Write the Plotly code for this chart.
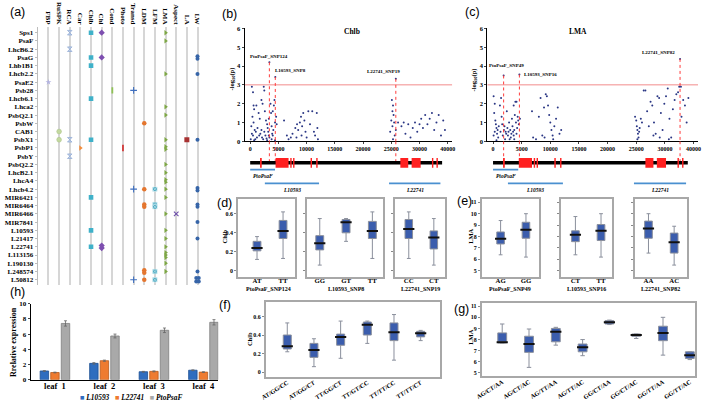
import plotly.graph_objects as go
from collections import Counter

W, H = 709, 405
def fx(p): return p / W
def fy(p): return 1 - p / H

SERIF = "Liberation Serif"
SANS = "Liberation Sans"

# ---------------- (a) data ----------------
genes = ['Sps1','PsaF','LhcB6.2','PsaG','Lhb1B1','Lhcb2.2','PsaE2','Psb28','Lhcb6.1','Lhca2',
         'PsbQ2.1','PsbW','CAB1','PsbX1','PsbP1','PsbY','PsbQ2.2','LhcB2.1','LhcA4','Lhcb4.2',
         'MIR6421','MIR6464','MIR6466','MIR7841','L10593','L21417','L22741','L113156','L190130',
         'L248574','L50812']
traits = ['FBP','RuSPK','RCA','Car','Chlb','Chl','Cond','Photo','Transd','LDM','LFM','LMA',
          'Aspect','LA','LW']
hits_FBP = ['PsaE2']
hits_RuSPK = ['CAB1','PsbX1']
hits_RCA = ['Sps1','LhcB6.2','PsbX1','PsbY']
hits_Car = ['PsbP1']
hits_Chlb = ['Sps1','PsaG','Lhb1B1','Lhcb6.1','PsbX1','MIR6421','L10593','L22741']
hits_Chl = ['Sps1','PsaG','L22741','L22741']
hits_Cond = ['Psb28']
hits_Photo = ['PsbP1']
hits_Transd = ['Psb28','Lhcb4.2','L50812']
hits_LDM = ['PsbW','Lhcb4.2','MIR6464','MIR6464','L248574','L248574','L50812']
hits_LFM = ['Lhcb4.2','MIR6464','MIR6464','L248574','L50812']
hits_LMA = ['Sps1','PsaF','Lhcb2.2','Lhca2','PsbQ2.1','PsbX1','PsbP1','PsbP1','PsbQ2.2','LhcB2.1',
            'LhcA4','LhcA4','Lhcb4.2','MIR6421','MIR6466','L10593','L21417','L22741','L113156',
            'L113156','L113156','L190130','L248574']
hits_Aspect = ['MIR6466']
hits_LA = ['PsbX1']
hits_LW = ['PsaG','PsaG','Lhcb2.2','PsbX1','Lhcb4.2','Lhcb4.2','MIR6464','MIR6464','MIR7841',
           'L21417','L248574','L50812','L50812','L50812','L50812']
hits_by_trait = [hits_FBP, hits_RuSPK, hits_RCA, hits_Car, hits_Chlb, hits_Chl, hits_Cond,
                 hits_Photo, hits_Transd, hits_LDM, hits_LFM, hits_LMA, hits_Aspect, hits_LA, hits_LW]

trait_style = {
    'FBP':    dict(symbol='star', size=4.5, color='#b3b3e0', line=dict(width=0)),
    'RuSPK':  dict(symbol='circle', size=4.8, color='#c3d9a0', line=dict(width=0.5, color='#a9c184')),
    'RCA':    dict(symbol='hourglass', size=4.6, color='#bccde8', line=dict(width=0.7, color='#8ea8d3')),
    'Car':    dict(symbol='triangle-right', size=4.6, color='#f28c3c', line=dict(width=0)),
    'Chlb':   dict(symbol='square', size=4.6, color='#3fb1c9', line=dict(width=0)),
    'Chl':    dict(symbol='diamond', size=4.8, color='#7e4fb0', line=dict(width=0)),
    'Cond':   dict(symbol='line-ns', size=4.5, color='#8fc155', line=dict(width=1.8, color='#8fc155')),
    'Photo':  dict(symbol='line-ns', size=4.5, color='#d23a3a', line=dict(width=1.8, color='#d23a3a')),
    'Transd': dict(symbol='cross-thin', size=4.8, color='#3f6fbf', line=dict(width=1.1, color='#3f6fbf')),
    'LDM':    dict(symbol='circle', size=4.5, color='#e4762f', line=dict(width=0)),
    'LFM':    dict(symbol='square-x', size=4.4, color='#43a6bf', line=dict(width=0.6, color='#d8f0f5')),
    'LMA':    dict(symbol='triangle-right', size=4.6, color='#7ea746', line=dict(width=0)),
    'Aspect': dict(symbol='x-thin', size=4.6, color='#6d4fa8', line=dict(width=1.1, color='#6d4fa8')),
    'LA':     dict(symbol='square', size=5, color='#a83232', line=dict(width=0)),
    'LW':     dict(symbol='circle', size=4, color='#3765a8', line=dict(width=0)),
}

# ---------------- (b)/(c) data ----------------
b_pos = [300,500,700,400,600,200,800,300,500,1000,1200,900,100,1500,1700,2000,2200,2400,2500,2600,
         2800,3000,3100,3200,3300,3400,3600,3700,3800,3900,4000,4100,4200,4300,4400,4600,4700,1800,
         2100,2300,2700,2900,1300,1100,1600,700,3000,3800,4400,2000,2500,3300,4000,600,
         6000,6500,6800,7200,7500,8000,8300,8500,8800,9000,9200,9400,9600,9800,10000,10300,10600,
         11000,11300,11500,11800,12000,11900,9100,8200,
         25100,25300,25200,25400,25000,25500,25200,24800,25600,25300,25800,26200,26800,27200,27500,
         28000,28400,28800,29200,29600,30000,30300,30600,31000,31400,31800,32200,32600,33000,33400,
         33800,34200,34500]
b_logp = [2.9,2.6,1.7,1.3,1.0,0.8,0.6,0.4,0.3,0.5,0.2,0.1,0.1,1.5,1.2,2.2,2.0,2.9,2.7,1.6,
          1.1,0.9,0.7,0.5,0.3,0.2,2.0,1.5,0.8,0.4,0.3,0.6,1.9,2.2,1.0,1.3,0.9,0.4,
          0.2,0.1,0.3,0.15,0.7,1.9,0.3,0.05,0.05,0.1,0.05,0.6,0.5,1.2,1.6,1.9,
          1.1,0.3,0.1,0.2,0.4,0.7,0.9,0.6,1.0,1.3,0.8,1.5,1.1,0.5,0.2,1.6,0.9,
          1.6,0.5,0.3,1.5,0.1,0.7,0.3,0.2,
          2.2,1.9,1.6,1.4,1.1,1.0,0.8,0.5,0.3,0.1,0.6,1.0,0.8,1.0,0.4,
          0.9,0.2,0.7,1.0,0.5,0.9,1.2,0.7,1.4,0.9,1.2,1.5,0.6,1.0,1.4,
          0.3,1.1,0.6]
b_snp_names = ['PtoPsaF_SNP124','L10593_SNP8','L22741_SNP19']
b_snp_pos = [3400, 4450, 25800]
b_snp_logp = [4.2, 3.42, 3.32]

c_pos = [100,300,200,400,500,600,300,700,100,800,900,1000,1200,1400,1300,1600,1700,1900,2000,2200,
         2300,2500,2600,2700,2800,3000,3100,3200,3300,3400,3500,3600,3700,3800,3900,4000,4100,4200,
         4300,4400,4500,4700,2100,2900,3700,600,1500,2400,3600,4100,
         6800,7000,7500,8000,8300,8600,8900,9200,9400,9600,9800,10000,10200,10400,10700,11000,11300,
         11600,11900,9000,10500,
         24800,25000,25100,25200,25300,25400,25500,25600,25200,25800,26000,26300,26600,26900,27200,
         27500,27800,28100,28400,28700,29000,29300,29600,29900,30200,30500,30800,31100,31400,31700,
         32000,32300,32500,32900,33200,33500,33800,34100,30700,29100,28000,32800]
c_logp = [2.4,2.0,1.5,1.1,0.9,0.7,0.5,0.4,0.3,0.6,0.2,0.8,1.9,2.3,0.5,0.9,0.3,0.6,0.8,0.5,
          0.4,0.7,0.3,0.5,1.0,0.6,0.2,0.4,1.2,0.8,0.5,0.3,0.6,1.4,2.1,1.0,0.4,0.7,
          1.3,1.1,0.9,1.2,0.1,0.1,0.1,0.05,1.3,1.6,1.9,2.1,
          1.6,0.2,0.1,1.3,2.3,0.3,1.8,2.5,2.4,1.9,1.4,1.0,0.6,0.3,0.8,1.2,1.8,
          0.4,0.6,0.2,0.1,
          1.3,1.1,0.8,0.6,0.4,0.2,0.5,0.7,0.1,1.2,1.0,2.7,2.7,1.6,0.8,
          2.1,1.9,1.0,0.4,2.4,2.3,1.5,0.6,2.0,2.4,2.8,1.2,0.2,1.7,2.2,
          2.5,2.6,2.9,1.3,2.2,1.9,1.0,2.3,0.1,0.2,0.3,2.9]
c_snp_names = ['PtoPsaF_SNP49','L10593_SNP16','L22741_SNP82']
c_snp_pos = [1850, 4600, 32650]
c_snp_logp = [3.5, 3.55, 4.38]
threshold = 3

# gene structure (bp)
scaffold_len = 34000
exon_start = [1750, 4500, 7100, 7600, 10700, 11700, 26600, 28600, 32200, 33000]
exon_end   = [2050, 6800, 7350, 7850, 10950, 11950, 28000, 30200, 32450, 33250]
locus_names = ['PtoPsaF', 'L10593', 'L22741']
locus_start = [0, 2600, 24600]
locus_end   = [4400, 12200, 33700]

# ---------------- (d)-(g) box data ----------------
d_groups = ['PtoPsaF_SNP124', 'L10593_SNP8', 'L22741_SNP19']
d1_cats = ['AT','TT']; d1_low=[0.12,0.13]; d1_q1=[0.21,0.34]; d1_med=[0.24,0.42]; d1_q3=[0.31,0.53]; d1_high=[0.36,0.62]
d2_cats = ['GG','GT','TT']; d2_low=[0.06,0.31,0.13]; d2_q1=[0.22,0.40,0.34]; d2_med=[0.29,0.51,0.42]; d2_q3=[0.37,0.54,0.52]; d2_high=[0.55,0.55,0.62]
d3_cats = ['CC','CT']; d3_low=[0.13,0.06]; d3_q1=[0.34,0.23]; d3_med=[0.44,0.35]; d3_q3=[0.54,0.42]; d3_high=[0.62,0.55]
e_groups = ['PtoPsaF_SNP49', 'L10593_SNP16', 'L22741_SNP82']
e1_cats = ['AG','GG']; e1_low=[6.4,6.2]; e1_q1=[7.35,7.85]; e1_med=[7.8,8.6]; e1_q3=[8.4,9.25]; e1_high=[9.4,10.0]
e2_cats = ['CT','TT']; e2_low=[6.4,6.2]; e2_q1=[7.55,7.65]; e2_med=[8.15,8.5]; e2_q3=[8.5,9.05]; e2_high=[9.75,10.0]
e3_cats = ['AA','AC']; e3_low=[6.55,5.5]; e3_q1=[7.85,6.55]; e3_med=[8.7,7.5]; e3_q3=[9.35,8.3]; e3_high=[10.0,8.9]
f_cats = ['AT/GG/CC','AT/GG/CT','TT/GG/CT','TT/GT/CC','TT/TT/CC','TT/TT/CT']
f_low=[0.22,0.06,0.15,0.31,0.13,0.34]; f_q1=[0.25,0.16,0.29,0.40,0.34,0.38]
f_med=[0.28,0.24,0.38,0.51,0.43,0.42]; f_q3=[0.40,0.31,0.41,0.54,0.53,0.44]
f_high=[0.53,0.36,0.55,0.55,0.62,0.45]
g_cats = ['AG/CT/AA','AG/CT/AC','AG/TT/AA','AG/TT/AC','GG/CT/AA','GG/CT/AC','GG/TT/AA','GG/TT/AC']
g_low=[7.7,5.5,7.5,6.55,9.35,8.1,6.6,6.2]; g_q1=[7.7,6.85,7.8,6.9,9.4,8.3,7.9,6.3]
g_med=[7.75,7.6,8.7,7.3,9.55,8.4,8.6,6.6]; g_q3=[8.6,8.3,9.0,7.6,9.7,8.5,9.2,6.9]
g_high=[9.4,8.95,9.1,8.0,9.75,8.5,10.0,6.9]

# ---------------- (h) data ----------------
leaves = ['leaf  1','leaf  2','leaf  3','leaf  4']
expr_L10593 = [1.15, 2.15, 1.05, 1.25]; err_L10593 = [0.05, 0.1, 0.05, 0.05]
expr_L22741 = [0.95, 2.5, 1.1, 1.0];    err_L22741 = [0.05, 0.08, 0.06, 0.05]
expr_PtoPsaF = [7.4, 5.75, 6.5, 7.55];  err_PtoPsaF = [0.35, 0.25, 0.3, 0.35]

fig = go.Figure()
lay = {}
ann = []
shapes = []

def tf(size, color='black', bold=True, italic=False, family=SERIF):
    d = dict(family=family, size=size, color=color)
    if bold: d['weight'] = 'bold'
    if italic: d['style'] = 'italic'
    return d

def pann(px, py, text, size, angle=0, xanchor='center', font=None):
    ann.append(dict(x=fx(px), y=fy(py), xref='paper', yref='paper', text=text,
                    textangle=angle, showarrow=False, xanchor=xanchor, yanchor='middle',
                    font=font or tf(size)))

# ================= (a) =================
for t, hits in zip(traits, hits_by_trait):
    ci = traits.index(t)
    xs, ys = [], []
    for g, n in Counter(hits).items():
        ri = genes.index(g)
        if n == 4:
            offs = [(-0.12, -0.2), (0.12, -0.2), (-0.12, 0.2), (0.12, 0.2)]
        else:
            offs = [(0, (k - (n - 1) / 2) * 0.3) for k in range(n)]
        for dx, dy in offs:
            xs.append(ci + dx); ys.append(ri + dy)
    fig.add_trace(go.Scatter(x=xs, y=ys, mode='markers', marker=trait_style[t],
                             xaxis='x', yaxis='y', showlegend=False, hoverinfo='skip'))

lay['xaxis'] = dict(domain=[fx(32), fx(200)], range=[-1.02, 14.56], side='top', anchor='y',
                    tickvals=list(range(len(traits))), ticktext=traits, tickangle=90,
                    showgrid=True, gridcolor='#d6d6d6', gridwidth=2, zeroline=False,
                    showline=False, ticks='', tickfont=tf(7))
lay['yaxis'] = dict(domain=[fy(287), fy(23)], range=[30.68, -0.75], anchor='x',
                    tickvals=list(range(len(genes))), ticktext=genes, showgrid=False,
                    zeroline=False, showline=True, linecolor='#bdbdbd', linewidth=1,
                    ticks='outside', ticklen=2, tickcolor='#bdbdbd', tickfont=tf(7))

# ================= (b), (c) =================
def manhattan(xa, ya, ga, xdom, pos, logp, snames, spos, slogp, title, title_x, ylab_x,
              lab_layout):
    xk, yk, gk = xa.replace('x', 'xaxis'), ya.replace('y', 'yaxis'), ga.replace('y', 'yaxis')
    fig.add_trace(go.Scatter(x=pos + spos, y=logp + slogp, mode='markers', xaxis=xa, yaxis=ya,
                             marker=dict(symbol='circle', size=2, color='#2a3684',
                                         line=dict(width=0)),
                             showlegend=False, hoverinfo='skip'))
    fig.add_trace(go.Scatter(x=[-1000, 35800], y=[threshold, threshold], mode='lines',
                             line=dict(color='#f28b8b', width=1), xaxis=xa, yaxis=ya,
                             showlegend=False, hoverinfo='skip'))
    for nm, p, v, (dxp, dyp, anc, yanc) in zip(snames, spos, slogp, lab_layout):
        fig.add_trace(go.Scatter(x=[p, p], y=[v, 0], mode='lines', xaxis=xa, yaxis=ya,
                                 line=dict(color='#ff3b3b', width=1, dash='dot'),
                                 showlegend=False, hoverinfo='skip'))
        fig.add_trace(go.Scatter(x=[p, p], y=[0, 22], mode='lines', xaxis=xa, yaxis=ga,
                                 line=dict(color='#ff3b3b', width=1, dash='dot'),
                                 showlegend=False, hoverinfo='skip'))
        ann.append(dict(x=p, y=v, xref=xa, yref=ya, text=nm, showarrow=False,
                        xanchor=anc, yanchor=yanc, xshift=dxp, yshift=dyp, font=tf(5)))
    fig.add_trace(go.Scatter(x=[0, scaffold_len], y=[22, 22], mode='lines', xaxis=xa, yaxis=ga,
                             line=dict(color='black', width=3.5), showlegend=False,
                             hoverinfo='skip'))
    for s, e in zip(exon_start, exon_end):
        shapes.append(dict(type='rect', xref=xa, yref=ga, x0=s, x1=e, y0=17, y1=27,
                           fillcolor='#ff2020', line=dict(width=0)))
    for i, (nm, s, e) in enumerate(zip(locus_names, locus_start, locus_end)):
        yy = 29 if i == 0 else 43
        fig.add_trace(go.Scatter(x=[s, e], y=[yy, yy], mode='lines', xaxis=xa, yaxis=ga,
                                 line=dict(color='#4a90d0', width=1.6), showlegend=False,
                                 hoverinfo='skip'))
        ann.append(dict(x=(s + e) / 2, y=yy + 1.5, xref=xa, yref=ga, text='<i>' + nm + '</i>',
                        showarrow=False, xanchor='center', yanchor='top', font=tf(5.5)))
    lay[xk] = dict(domain=xdom, range=[-1000, 35800], anchor=ya,
                   tickvals=[0, 5000, 10000, 15000, 20000, 25000, 30000, 35000],
                   ticktext=['0', '5000', '10000', '15000', '20000', '25000', '30000', '40000'],
                   showline=True, linecolor='black', linewidth=1, ticks='outside', ticklen=2,
                   showgrid=False, zeroline=False, tickfont=tf(6))
    lay[yk] = dict(domain=[fy(140), fy(24)], range=[0, 6.05], anchor=xa,
                   tickvals=[0, 1, 2, 3, 4, 5, 6], showline=True, linecolor='black',
                   linewidth=1, ticks='outside', ticklen=2, showgrid=False, zeroline=False,
                   tickfont=tf(6.5))
    lay[gk] = dict(domain=[fy(198), fy(140)], range=[58, 0], anchor=xa, visible=False)
    pann(title_x, 28, title, 7.5)
    pann(ylab_x, 77, '-log<sub>10</sub>(p)', 6.5, angle=-90)

manhattan('x2', 'y2', 'y3', [fx(241.6), fx(452)], b_pos, b_logp, b_snp_names, b_snp_pos,
          b_snp_logp, 'Chlb', 350, 229,
          [(0, 1, 'center', 'bottom'), (-2, 2, 'left', 'bottom'), (-12, 3, 'center', 'bottom')])
manhattan('x3', 'y4', 'y5', [fx(487.5), fx(701)], c_pos, c_logp, c_snp_names, c_snp_pos,
          c_snp_logp, 'LMA', 579, 474,
          [(3, 5, 'center', 'bottom'), (3, 0, 'left', 'middle'), (-22, 2, 'center', 'bottom')])

# ================= box panels =================
BOXFILL = '#3b5dad'
BOXLINE = '#8a8f9c'
FRAME = '#a8a8a8'

def box_panel(xa, ya, cats, low, q1, med, q3, high, xdom, ydom, xrange, yrange, ytickvals,
              showlabels, tickangle=0, bw=0.3, medsize=8):
    xk, yk = xa.replace('x', 'xaxis'), ya.replace('y', 'yaxis')
    fig.add_trace(go.Box(x=cats, q1=q1, median=med, q3=q3, lowerfence=low, upperfence=high,
                         xaxis=xa, yaxis=ya, fillcolor=BOXFILL, width=bw, whiskerwidth=0.5,
                         line=dict(color=BOXLINE, width=1), showlegend=False, hoverinfo='skip'))
    fig.add_trace(go.Scatter(x=cats, y=med, mode='markers', xaxis=xa, yaxis=ya,
                             marker=dict(symbol='line-ew', size=medsize,
                                         line=dict(color='#101010', width=2)),
                             showlegend=False, hoverinfo='skip'))
    lay[xk] = dict(domain=xdom, range=xrange, anchor=ya, type='category',
                   categoryorder='array', categoryarray=cats,
                   showline=True, mirror=True, linecolor=FRAME, linewidth=1.5, ticks='',
                   showgrid=False, zeroline=False, tickfont=tf(6.8 if tickangle == 0 else 6.2),
                   tickangle=tickangle, ticklabelstandoff=-3 if tickangle == 0 else -2)
    lay[yk] = dict(domain=ydom, range=yrange, anchor=xa, tickvals=ytickvals,
                   showticklabels=showlabels, showline=True, mirror=True, linecolor=FRAME,
                   linewidth=1.5, ticks='outside', ticklen=2, tickcolor='#888',
                   showgrid=False, zeroline=False, tickfont=tf(6))

dy_dom = [fy(278), fy(199)]
dyr = [-0.06, 0.755]
dyt = [0, 0.2, 0.4, 0.6]
box_panel('x4', 'y6', d1_cats, d1_low, d1_q1, d1_med, d1_q3, d1_high, [fx(235), fx(293)],
          dy_dom, [-0.73, 1.47], dyr, dyt, True)
box_panel('x5', 'y7', d2_cats, d2_low, d2_q1, d2_med, d2_q3, d2_high, [fx(305), fx(382)],
          dy_dom, [-0.48, 2.41], dyr, dyt, False)
box_panel('x6', 'y8', d3_cats, d3_low, d3_q1, d3_med, d3_q3, d3_high, [fx(394), fx(445)],
          dy_dom, [-0.55, 1.46], dyr, dyt, False)
eyr = [4.5, 11.28]
eyt = [5, 6, 7, 8, 9, 10, 11]
box_panel('x7', 'y9', e1_cats, e1_low, e1_q1, e1_med, e1_q3, e1_high, [fx(481.7), fx(540)],
          dy_dom, [-0.75, 1.52], eyr, eyt, True)
box_panel('x8', 'y10', e2_cats, e2_low, e2_q1, e2_med, e2_q3, e2_high, [fx(561.7), fx(613.3)],
          dy_dom, [-0.58, 1.41], eyr, eyt, False)
box_panel('x9', 'y11', e3_cats, e3_low, e3_q1, e3_med, e3_q3, e3_high, [fx(636.7), fx(690)],
          dy_dom, [-0.54, 1.51], eyr, eyt, False)

for gname, cx in zip(d_groups, [266, 344, 420]):
    pann(cx, 290.5, gname, 6)
for gname, cx in zip(e_groups, [510, 588, 663]):
    pann(cx, 290.5, gname, 6)

box_panel('x10', 'y12', f_cats, f_low, f_q1, f_med, f_q3, f_high, [fx(263), fx(440)],
          [fy(380.7), fy(304)], [-0.81, 5.74], [-0.053, 0.755], dyt, True, tickangle=-32)
box_panel('x11', 'y13', g_cats, g_low, g_q1, g_med, g_q3, g_high, [fx(481.7), fx(698.3)],
          [fy(380), fy(305)], [-0.77, 7.21], [4.68, 11.29], eyt, True, tickangle=-32,
          bw=0.33)

pann(221, 237, 'Chlb', 6.5, angle=-90)
pann(470.5, 237, 'LMA', 6.5, angle=-90)
pann(246, 342, 'Chlb', 6.5, angle=-90)
pann(470.5, 340, 'LMA', 6.5, angle=-90)

# ================= (h) =================
h_colors = ['#2f6dbf', '#ee7b30', '#a9a9a9']
h_lines = ['#1d4f92', '#b85a1c', '#7f7f7f']
for nm, vals, errs, col, lc in zip(['L10593', 'L22741', 'PtoPsaF'],
                                   [expr_L10593, expr_L22741, expr_PtoPsaF],
                                   [err_L10593, err_L22741, err_PtoPsaF], h_colors, h_lines):
    fig.add_trace(go.Bar(x=leaves, y=vals, name=nm, xaxis='x12', yaxis='y14',
                         marker=dict(color=col, line=dict(color=lc, width=0.8)),
                         error_y=dict(type='data', array=errs, color='#666', thickness=0.8,
                                      width=1.5),
                         showlegend=False, hoverinfo='skip'))
lay['xaxis12'] = dict(domain=[fx(25), fx(215)], range=[-0.49, 3.3], anchor='y14',
                      showline=True, linecolor='black', linewidth=1, ticks='', showgrid=False,
                      tickfont=tf(8.5), ticklabelstandoff=-2)
lay['yaxis14'] = dict(domain=[fy(383.3), fy(305.7)], range=[0, 10], anchor='x12',
                      tickvals=[0, 2, 4, 6, 8, 10], showline=True, linecolor='black',
                      linewidth=1, ticks='outside', ticklen=2, showgrid=False, zeroline=False,
                      tickfont=tf(7))
pann(7, 345, 'Rrelative expression', 8, angle=-90)
legend_txt = '&nbsp;&nbsp;&nbsp;'.join(
    "<span style='color:%s'>■</span>&nbsp;<i>%s</i>" % (c, n)
    for c, n in zip(h_colors, ['L10593', 'L22741', 'PtoPsaF']))
pann(127, 401, legend_txt, 7.4)

# panel letters
for lab, px, py in [('(a)', 2, 8), ('(b)', 217, 10), ('(c)', 463, 8), ('(d)', 212, 203),
                    ('(e)', 455, 201), ('(f)', 214, 307), ('(g)', 452, 311), ('(h)', 2, 294)]:
    pann(px, py, lab, 12.5, xanchor='left', font=dict(family=SANS, size=12.5, color='black'))

fig.update_layout(width=W, height=H, margin=dict(l=0, r=0, t=0, b=0),
                  paper_bgcolor='white', plot_bgcolor='white', annotations=ann,
                  shapes=shapes, barmode='group', bargap=0.36, bargroupgap=0.2,
                  showlegend=False, **lay)
fig.write_html("out.html", config={'displayModeBar': False},
               post_script="document.body.style.margin='0px';")
